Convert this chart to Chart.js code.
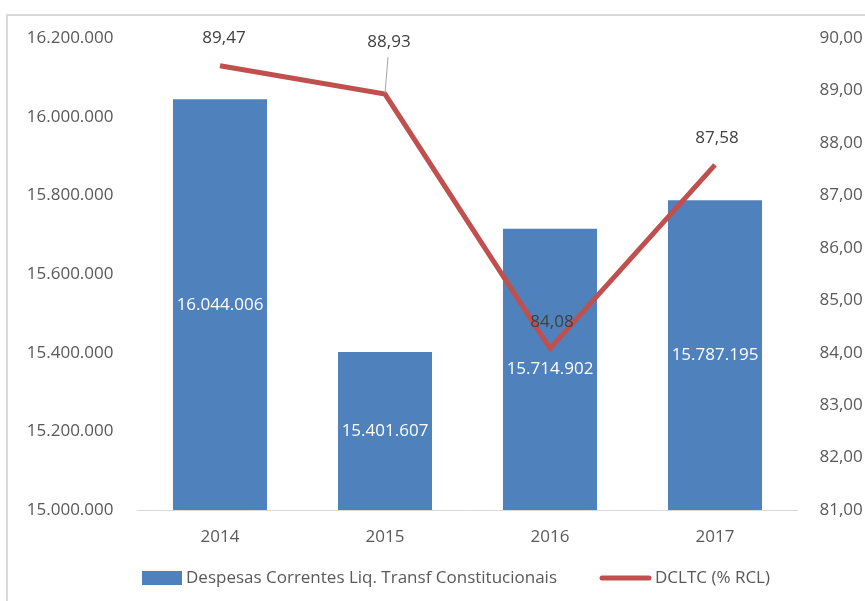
<!DOCTYPE html>
<html lang="pt-BR">
<head>
<meta charset="utf-8">
<title>Despesas Correntes x DCLTC</title>
<script src="https://cdn.jsdelivr.net/npm/chart.js@4.4.1/dist/chart.umd.min.js"></script>
<style>
  html, body { margin: 0; padding: 0; background: #fff; overflow: hidden; }
  #wrap { position: relative; width: 865px; height: 601px; }
  #frame {
    position: absolute; left: 6px; top: 14px; width: 900px; height: 700px;
    border: 2px solid #d9d9d9; box-sizing: border-box;
  }
  #chart { position: absolute; left: 0; top: 0; }
</style>
</head>
<body>
<div id="wrap">
  <div id="frame"></div>
  <canvas id="chart" width="865" height="601"></canvas>
</div>
<script>
const anos = ['2014', '2015', '2016', '2017'];
const despesas = [16044006, 15401607, 15714902, 15787195];
const dcltc = [89.47, 88.93, 84.08, 87.58];

const FONT = '"Open Sans", "DejaVu Sans", sans-serif';
const FSIZE = 17;
const AZUL = '#4f81bd';
const VERMELHO = '#c0504d';

function fmtInt(n){
  return String(Math.round(n)).replace(/\B(?=(\d{3})+(?!\d))/g, '.');
}
function fmtDec(v){
  return v.toFixed(2).replace('.', ',');
}

// rótulos de valor: branco no meio das barras, cinza escuro acima da linha
const valueLabels = {
  id: 'valueLabels',
  afterDatasetsDraw(chart, args, opts){
    const ctx = chart.ctx;
    const sy = chart.scales.y;
    const sy1 = chart.scales.y1;
    const sx = chart.scales.x;
    ctx.save();
    ctx.font = FSIZE + 'px ' + FONT;
    ctx.textAlign = 'center';
    ctx.textBaseline = 'middle';

    ctx.fillStyle = '#ffffff';
    despesas.forEach((v, i) => {
      const x = sx.getPixelForValue(i);
      const top = sy.getPixelForValue(v);
      ctx.fillText(fmtInt(v), x, (top + sy.bottom) / 2);
    });

    dcltc.forEach((v, i) => {
      const px = sx.getPixelForValue(i);
      const py = sy1.getPixelForValue(v);
      const [dx, dy] = opts.offsets[i];
      const lx = px + dx, ly = py + dy;
      if (opts.leader[i]) {
        ctx.strokeStyle = '#a6a6a6';
        ctx.lineWidth = 1;
        ctx.beginPath();
        ctx.moveTo(lx - 1, ly + 15);
        ctx.lineTo(px, py - 1);
        ctx.stroke();
      }
      ctx.fillStyle = '#404040';
      ctx.fillText(fmtDec(v), lx, ly);
    });
    ctx.restore();
  }
};

// legenda embaixo: caixa azul para a barra, traço vermelho para a linha
const bottomLegend = {
  id: 'bottomLegend',
  afterDraw(chart){
    const ctx = chart.ctx;
    const ds = chart.data.datasets;
    const y = 578;
    ctx.save();
    ctx.font = FSIZE + 'px ' + FONT;
    ctx.textBaseline = 'middle';
    ctx.textAlign = 'left';
    ctx.fillStyle = ds[0].backgroundColor;
    ctx.fillRect(142, y - 7, 40, 14);
    ctx.fillStyle = '#595959';
    ctx.fillText(ds[0].label, 186, y);

    ctx.strokeStyle = ds[1].borderColor;
    ctx.lineWidth = 5;
    ctx.lineCap = 'round';
    ctx.beginPath();
    ctx.moveTo(602, y);
    ctx.lineTo(649, y);
    ctx.stroke();
    ctx.fillText(ds[1].label, 655, y);
    ctx.restore();
  }
};

const tickFont = { family: FONT, size: FSIZE };

new Chart(document.getElementById('chart'), {
  data: {
    labels: anos,
    datasets: [
      {
        type: 'bar',
        label: 'Despesas Correntes Liq. Transf Constitucionais',
        data: despesas,
        backgroundColor: AZUL,
        borderWidth: 0,
        barPercentage: 0.57,
        categoryPercentage: 1,
        yAxisID: 'y',
        order: 1
      },
      {
        type: 'line',
        label: 'DCLTC (% RCL)',
        data: dcltc,
        borderColor: VERMELHO,
        backgroundColor: VERMELHO,
        borderWidth: 5,
        pointRadius: 0,
        tension: 0,
        yAxisID: 'y1',
        order: 0
      }
    ]
  },
  options: {
    responsive: false,
    animation: false,
    devicePixelRatio: 1,
    layout: { padding: { top: 38, left: 0, right: 0, bottom: 0 } },
    plugins: {
      legend: { display: false },
      tooltip: { enabled: false },
      valueLabels: {
        offsets: [[4, -28], [4, -52], [2, -26], [2, -27]],
        leader: [false, true, false, false]
      }
    },
    scales: {
      x: {
        grid: { display: false, drawTicks: false },
        border: { display: true, color: '#d9d9d9', width: 1 },
        ticks: { color: '#595959', font: tickFont, padding: 17 },
        afterFit(axis){ axis.height = 91; }
      },
      y: {
        position: 'left',
        min: 15000000,
        max: 16200000,
        grid: { display: false, drawTicks: false },
        border: { display: false },
        ticks: {
          stepSize: 200000,
          color: '#595959',
          font: tickFont,
          padding: 24,
          callback: v => fmtInt(v)
        },
        afterFit(axis){ axis.width = 137.5; }
      },
      y1: {
        position: 'right',
        min: 81,
        max: 90,
        grid: { display: false, drawTicks: false },
        border: { display: false },
        ticks: {
          stepSize: 1,
          color: '#595959',
          font: tickFont,
          padding: 22,
          callback: v => fmtDec(v)
        },
        afterFit(axis){ axis.width = 67.5; }
      }
    }
  },
  plugins: [valueLabels, bottomLegend]
});
</script>
</body>
</html>
